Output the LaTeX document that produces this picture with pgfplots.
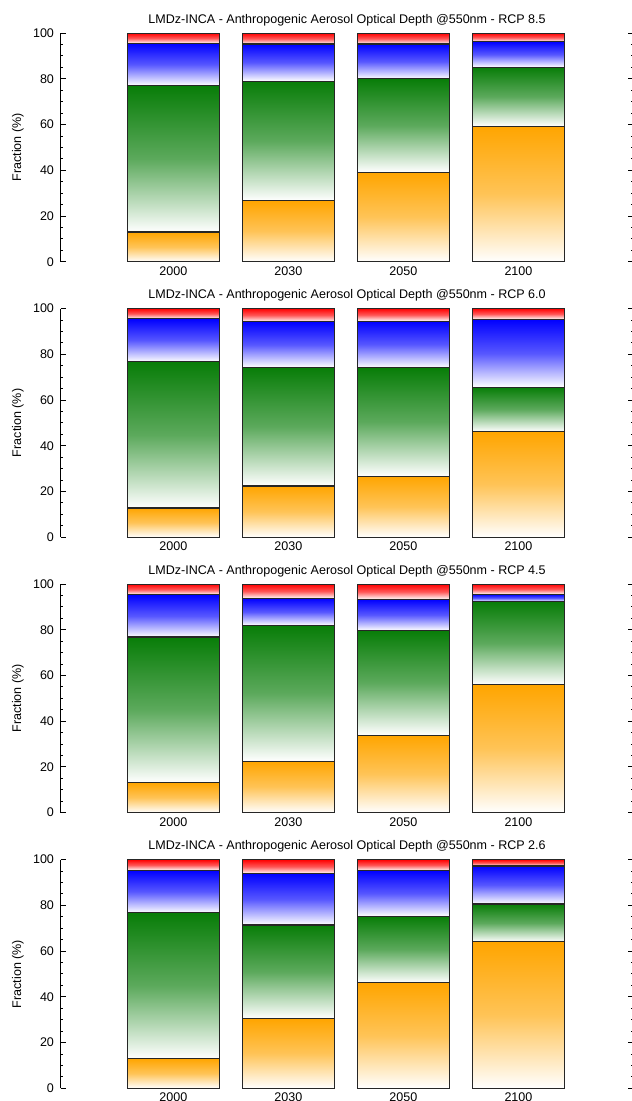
\documentclass[border=0pt]{standalone}
\usepackage{fontspec}
\setmainfont{Liberation Sans}
\usepackage{pgfplots}
\usepackage{pgfplotstable}
\pgfplotsset{compat=1.18}

\definecolor{aerOrange}{RGB}{255,165,0}
\definecolor{aerGreen}{RGB}{8,125,8}
\definecolor{aerBlue}{RGB}{0,0,255}
\definecolor{aerRed}{RGB}{255,0,0}

% segment sizes (%), stacked: orange, green, blue, red
\pgfplotstableread{
x orange green blue red
0 13.0 64.0 18.5 4.5
1 26.7 52.3 16.2 4.8
2 39.2 40.8 15.2 4.8
3 59.3 25.8 11.1 3.8
}\rcpEightFive
\pgfplotstableread{
x orange green blue red
0 12.8 63.9 18.8 4.5
1 22.4 51.9 19.9 5.8
2 26.7 47.4 20.4 5.5
3 46.2 19.4 29.7 4.7
}\rcpSix
\pgfplotstableread{
x orange green blue red
0 13.2 63.6 18.5 4.7
1 22.5 59.4 11.8 6.3
2 33.9 45.8 13.6 6.7
3 56.0 36.3 3.2 4.5
}\rcpFourFive
\pgfplotstableread{
x orange green blue red
0 13.0 63.7 18.6 4.7
1 30.5 40.9 22.5 6.1
2 46.1 29.1 20.0 4.8
3 64.0 16.6 16.6 2.8
}\rcpTwoSix

\newcommand{\lab}{\fontsize{9.4}{11}\selectfont}

\pgfplotsset{
  aodgeom/.style={
    width=429.6pt, height=171.5pt, scale only axis,
    anchor=south west,
    ybar stacked, bar width=0.8,
    xmin=-0.98, xmax=4, ymin=0, ymax=100,
    seg/.style={draw=black!85, line width=0.85pt,
      top color=##1, bottom color=white, middle color=##1!66!white},
  },
  aod/.style={
    aodgeom,
    xtick={0,1,2,3}, xticklabels={2000,2030,2050,2100},
    ytick={0,20,...,100}, minor y tick num=3,
    separate axis lines,
    x axis line style={draw=none},
    xtick style={draw=none},
    axis line style={line width=0.75pt},
    tick align=inside,
    major tick length=3.8pt, minor tick length=2pt,
    ytick style={line width=0.7pt, black},
    ticklabel style={font=\lab},
    /pgf/number format/assume math mode=true,
    xticklabel style={anchor=base, yshift=-10pt},
    yticklabel style={xshift=-1.5pt},
    ylabel={Fraction (\%)},
    ylabel style={font=\lab, at={(axis description cs:0,0.5)}, anchor=center, yshift=32pt},
    title style={font=\lab, anchor=base, yshift=1.5pt},
  },
}

% one bar: four stacked segments, each its own path so each gets its own shading
\newcommand{\aodsegs}[2]{%
  \addplot[seg=aerOrange, restrict x to domain=#2:#2] table[x=x, y=orange] {#1};
  \addplot[seg=aerGreen, restrict x to domain=#2:#2] table[x=x, y=green] {#1};
  \addplot[seg=aerBlue, restrict x to domain=#2:#2] table[x=x, y=blue] {#1};
  \addplot[seg=aerRed, restrict x to domain=#2:#2] table[x=x, y=red] {#1};}

\newcommand{\aodpanel}[3]{%
  \begin{axis}[aod, at={(45.5pt,#3)},
    title={LMDz-INCA - Anthropogenic Aerosol Optical Depth @550nm - RCP #2}]
    \aodsegs{#1}{0}
  \end{axis}
  \foreach \i in {1,2,3}{%
    \begin{axis}[aodgeom, hide axis, at={(45.5pt,#3)}]
      \aodsegs{#1}{\i}
    \end{axis}}}

\begin{document}
\begin{tikzpicture}
  \path[use as bounding box] (0,0) rectangle (474pt,-825.75pt);
  \aodpanel{\rcpEightFive}{8.5}{-196.3pt}
  \aodpanel{\rcpSix}{6.0}{-402.9pt}
  \aodpanel{\rcpFourFive}{4.5}{-609.5pt}
  \aodpanel{\rcpTwoSix}{2.6}{-816.2pt}
\end{tikzpicture}
\end{document}
